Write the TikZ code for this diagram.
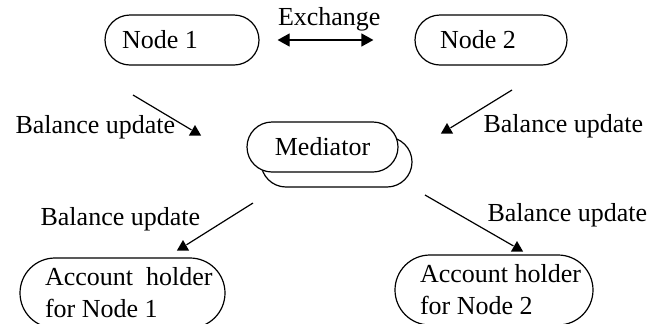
\documentclass[tikz,border=0pt]{standalone}
\usepackage{fontspec}
\setmainfont{Liberation Serif}
\usepackage{tikz}
\usetikzlibrary{arrows.meta, shapes.geometric, positioning}

\begin{document}
\begin{tikzpicture}[x=0.5pt, y=-0.5pt, line width=0.6pt,
    font=\fontsize{13}{16}\selectfont,
    >={Triangle[length=6pt, width=6.5pt]},
    pill/.style={draw, rectangle, fill=white, minimum height=25pt,
      rounded corners=12.5pt, inner ysep=0pt, align=flush left},
    holder/.style={draw, rectangle, fill=white, minimum height=35pt,
      rounded corners=17.5pt, inner xsep=12.5pt, inner ysep=0pt,
      align=flush left},
    uptri/.style={regular polygon, regular polygon sides=3, fill,
      minimum size=7pt, inner sep=0pt},
    lbl/.style={anchor=base west, inner sep=0pt}]

    \useasboundingbox (0,0) rectangle (663,323);

    % the two nodes on top
    \node[pill, text width=60pt, inner xsep=8.5pt] (n1) at (182,40) {Node 1};
    \node[pill, text width=51pt, inner xsep=12.5pt] (n2) at (491,40) {Node 2};

    \path[<->]
    (n1) edge [shorten <=9pt, shorten >=20.5pt]
      node[pos=.45, above=4pt, inner sep=0pt] {Exchange} (n2)
    ;

    % mediator, with a second box behind it
    \node[pill, minimum width=75.5pt, align=center] (medback) at (336.5,162) {};
    \node[pill, minimum width=75.5pt, align=center] (med) at (322.5,147) {Mediator};

    % account holders (first lines run into the rounded ends)
    \node[holder, text width=77.5pt] (acc1) at (122.5,293)
      {\mbox{Account\ \ holder}\\for Node 1};
    \node[holder, text width=74pt] (acc2) at (494,290)
      {\mbox{Account holder}\\for Node 2};

    % balance update arrows
    \coordinate (s1) at (133,95);
    \coordinate (s2) at (512,90);
    \coordinate (s3) at (253,203);
    \coordinate (s4) at (425,195);
    \node[uptri] (t1) at (195,132) {};
    \node[uptri] (t2) at (447,130) {};
    \node[uptri] (t3) at (183,247) {};
    \node[uptri] (t4) at (517,248) {};

    \path
    (s1) edge (t1)
    (s2) edge (t2)
    (s3) edge (t3)
    (s4) edge (t4)
    ;

    \node[lbl] (bu1) at (15,133) {Balance update};
    \node[lbl] (bu2) at (483,132) {Balance update};
    \node[lbl] (bu3) at (40,225) {Balance update};
    \node[lbl] (bu4) at (487,221) {Balance update};
  \end{tikzpicture}
\end{document}
